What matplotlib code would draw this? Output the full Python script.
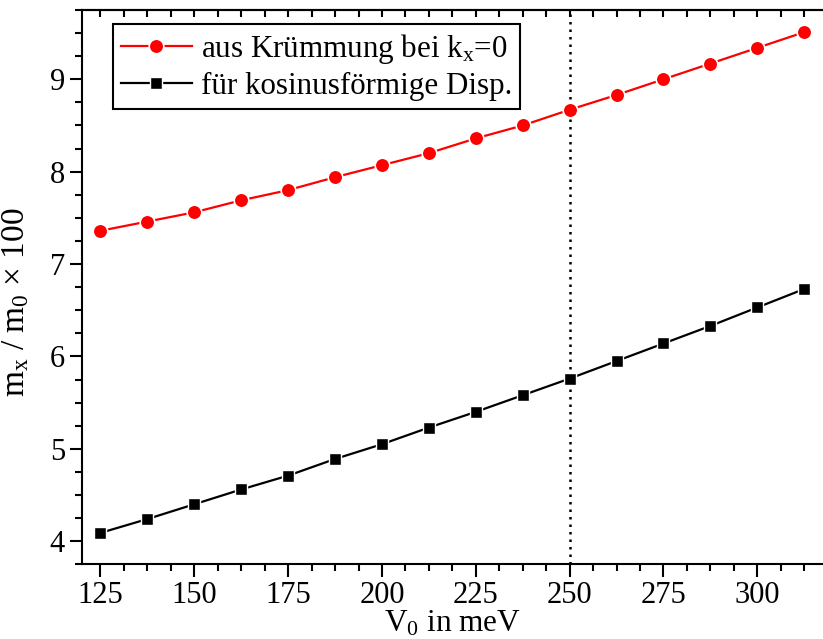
import matplotlib
matplotlib.use("Agg")
import matplotlib.pyplot as plt
from matplotlib.ticker import MultipleLocator

plt.rcParams["font.family"] = ["Liberation Serif", "DejaVu Serif"]
plt.rcParams["mathtext.fontset"] = "custom"
plt.rcParams["mathtext.rm"] = "Liberation Serif"
plt.rcParams["mathtext.it"] = "Liberation Serif:italic"

# Barrier height V0 (meV)
v0 = [125, 137.5, 150, 162.5, 175, 187.5, 200, 212.5,
      225, 237.5, 250, 262.5, 275, 287.5, 300, 312.5]
# effective mass from curvature at kx = 0
mass_curvature = [7.36, 7.46, 7.56, 7.69, 7.80, 7.94, 8.07, 8.20,
                  8.36, 8.50, 8.67, 8.83, 9.00, 9.17, 9.34, 9.51]
# effective mass for a cosine-shaped dispersion
mass_cosine = [4.09, 4.24, 4.40, 4.56, 4.71, 4.89, 5.05, 5.23,
               5.40, 5.58, 5.76, 5.95, 6.14, 6.33, 6.53, 6.73]
v0_marker = 250

label_curv = r"aus Krümmung bei k$_\mathrm{x}$=0"
label_cos = "für kosinusförmige Disp."

fig = plt.figure(figsize=(8.23, 6.39), dpi=100)
ax = fig.add_axes([0.0993, 0.1169, 0.9007, 0.8675])

ax.plot(v0, mass_curvature, color="#ff0000", lw=1.6, marker="o", ms=10.5,
        mec="white", mew=1.2, label=label_curv, zorder=3)
ax.plot(v0, mass_cosine, color="black", lw=1.6, marker="s", ms=9,
        mec="white", mew=1.0, label=label_cos, zorder=3)
ax.axvline(v0_marker, color="black", ls=(0, (1, 2)), lw=1.8, zorder=2)

ax.set_xlim(120, 317.5)
ax.set_ylim(3.75, 9.75)
ax.xaxis.set_major_locator(MultipleLocator(25))
ax.xaxis.set_minor_locator(MultipleLocator(6.25))
ax.yaxis.set_major_locator(MultipleLocator(1))
ax.yaxis.set_minor_locator(MultipleLocator(0.25))

for side in ("left", "bottom", "top"):
    ax.spines[side].set_linewidth(1.5)
ax.spines["right"].set_visible(False)

ax.tick_params(axis="both", which="major", direction="out", length=9,
               width=1.5, labelsize=22, pad=3)
ax.tick_params(axis="both", which="minor", direction="out", length=5,
               width=1.5)
# top axis: inward ticks without labels
sec = ax.secondary_xaxis("top")
sec.xaxis.set_major_locator(MultipleLocator(25))
sec.xaxis.set_minor_locator(MultipleLocator(6.25))
sec.tick_params(axis="x", which="both", direction="in", length=5, width=1.5,
                labeltop=False)
sec.spines["top"].set_linewidth(1.5)

ax.set_xlabel(r"V$_0$ in meV", fontsize=22.5, labelpad=-1)
ax.set_ylabel(r"m$_\mathrm{x}$ / m$_0$ $\times$ 100", fontsize=24)
ax.yaxis.set_label_coords(-0.068, 0.473)

leg = ax.legend(loc="upper left", bbox_to_anchor=(0.042, 0.975),
                borderaxespad=0, fontsize=22.3, frameon=True, fancybox=False,
                edgecolor="black", framealpha=1, handlelength=2.3,
                handletextpad=0.3, borderpad=0.25, labelspacing=0.2)
leg.get_frame().set_linewidth(1.5)

fig.savefig("out.png", dpi=100)
